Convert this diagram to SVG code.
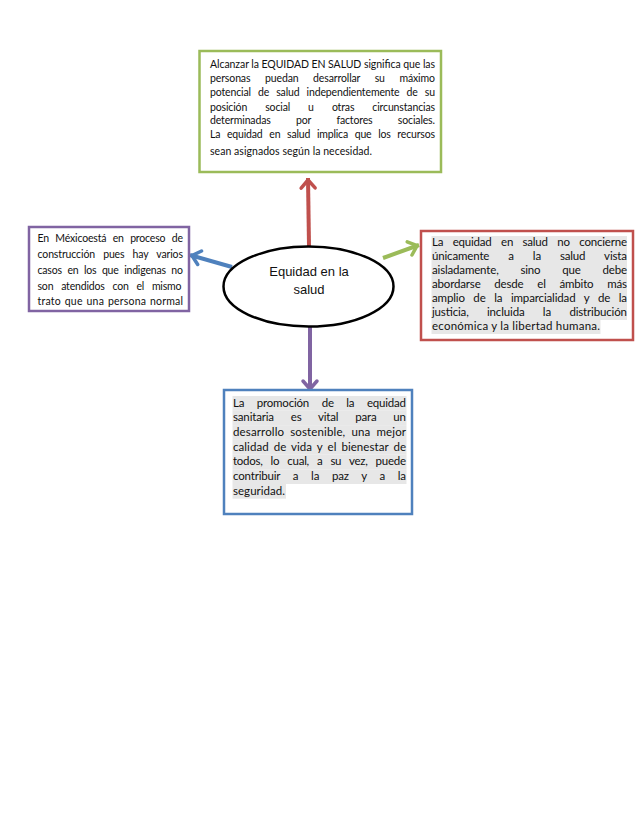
<svg xmlns="http://www.w3.org/2000/svg" width="638" height="826" viewBox="0 0 638 826">
<style>
.box{fill:#fff;stroke-width:2.5}
.t{font-family:Lato,"Liberation Sans",sans-serif;fill:#111}
.s{font-size:10.5px}
.m{font-size:11.5px}
.hl{fill:#e7e7e7}
.c{fill:none;stroke-width:4}
.e{font-family:"Liberation Sans",Arial,sans-serif;font-size:13px;fill:#111;text-anchor:middle}
</style>
<defs>
<marker id="aR" viewBox="-14 -10 18 20" refX="0" refY="0" markerWidth="18" markerHeight="20" markerUnits="userSpaceOnUse" orient="auto"><path d="M-10,-7 L-2,0 L-10,7" fill="none" stroke="#c0504d" stroke-width="3.5" stroke-linejoin="round" stroke-linecap="round"/></marker>
<marker id="aB" viewBox="-14 -10 18 20" refX="0" refY="0" markerWidth="18" markerHeight="20" markerUnits="userSpaceOnUse" orient="auto"><path d="M-10,-7 L-2,0 L-10,7" fill="none" stroke="#4f81bd" stroke-width="3.5" stroke-linejoin="round" stroke-linecap="round"/></marker>
<marker id="aG" viewBox="-14 -10 18 20" refX="0" refY="0" markerWidth="18" markerHeight="20" markerUnits="userSpaceOnUse" orient="auto"><path d="M-10,-7 L-2,0 L-10,7" fill="none" stroke="#9bbb59" stroke-width="3.5" stroke-linejoin="round" stroke-linecap="round"/></marker>
<marker id="aP" viewBox="-14 -10 18 20" refX="0" refY="0" markerWidth="18" markerHeight="20" markerUnits="userSpaceOnUse" orient="auto"><path d="M-10,-7 L-2,0 L-10,7" fill="none" stroke="#8064a2" stroke-width="3.5" stroke-linejoin="round" stroke-linecap="round"/></marker>
</defs>
<rect width="638" height="826" fill="#fff"/>

<g id="connectors">
<line class="c" x1="309" y1="246" x2="308" y2="178" stroke="#c0504d" marker-end="url(#aR)"/>
<line class="c" x1="232" y1="267" x2="190" y2="255" stroke="#4f81bd" marker-end="url(#aB)"/>
<line class="c" x1="383" y1="258" x2="419" y2="245" stroke="#9bbb59" marker-end="url(#aG)"/>
<line class="c" x1="310" y1="327" x2="310" y2="391" stroke="#8064a2" marker-end="url(#aP)"/>
</g>

<g id="center">
<ellipse cx="308.5" cy="286.5" rx="85" ry="40" fill="#fff" stroke="#000" stroke-width="2.5"/>
<text class="e" x="309" y="276">Equidad en la</text>
<text class="e" x="309" y="294">salud</text>
</g>

<g id="top">
<rect class="box" x="199.5" y="51" width="241.5" height="121" stroke="#9bbb59"/>
<g class="t s">
<text x="210" y="67.5" textLength="225" lengthAdjust="spacing">Alcanzar la EQUIDAD EN SALUD significa que las</text>
<text x="210" y="82" word-spacing="12" textLength="225" lengthAdjust="spacing">personas puedan desarrollar su máximo</text>
<text x="210" y="95.5" word-spacing="4.5" textLength="225" lengthAdjust="spacing">potencial de salud independientemente de su</text>
<text x="210" y="110.5" word-spacing="15.5" textLength="225" lengthAdjust="spacing">posición social u otras circunstancias</text>
<text x="210" y="124" word-spacing="22.8" textLength="225" lengthAdjust="spacing">determinadas por factores sociales.</text>
<text x="210" y="138" word-spacing="4.2" textLength="225" lengthAdjust="spacing">La equidad en salud implica que los recursos</text>
<text x="210" y="155" textLength="162" lengthAdjust="spacing">sean asignados según la necesidad.</text>
</g>
</g>

<g id="left">
<rect class="box" x="29" y="227" width="160" height="84" stroke="#8064a2"/>
<g class="t s">
<text x="37.5" y="242" word-spacing="3.8" textLength="145.5" lengthAdjust="spacing">En Méxicoestá en proceso de</text>
<text x="37.5" y="258" word-spacing="5.6" textLength="145.5" lengthAdjust="spacing">construcción pues hay varios</text>
<text x="37.5" y="274" word-spacing="3" textLength="145.5" lengthAdjust="spacing">casos en los que indigenas no</text>
<text x="37.5" y="290" word-spacing="5.3" textLength="144" lengthAdjust="spacing">son atendidos con el mismo</text>
<text x="37.5" y="305" word-spacing="1" textLength="145.5" lengthAdjust="spacing">trato que una persona normal</text>
</g>
</g>

<g id="right">
<rect class="box" x="421" y="231" width="212" height="109" stroke="#c0504d"/>
<rect class="hl" x="431.5" y="236" width="195.5" height="14"/>
<rect class="hl" x="431.5" y="250" width="195.5" height="14"/>
<rect class="hl" x="431.5" y="264" width="195.5" height="14"/>
<rect class="hl" x="431.5" y="278" width="195.5" height="14"/>
<rect class="hl" x="431.5" y="292" width="195.5" height="14"/>
<rect class="hl" x="431.5" y="306" width="195.5" height="14"/>
<rect class="hl" x="431.5" y="320" width="169" height="14"/>
<g class="t m">
<text x="432" y="246" word-spacing="6.7" textLength="195" lengthAdjust="spacing">La equidad en salud no concierne</text>
<text x="432" y="260" word-spacing="16.2" textLength="195" lengthAdjust="spacing">únicamente a la salud vista</text>
<text x="432" y="274" word-spacing="19" textLength="195" lengthAdjust="spacing">aisladamente, sino que debe</text>
<text x="432" y="288" word-spacing="10.9" textLength="195" lengthAdjust="spacing">abordarse desde el ámbito más</text>
<text x="432" y="302" word-spacing="5.8" textLength="195" lengthAdjust="spacing">amplio de la imparcialidad y de la</text>
<text x="432" y="316" word-spacing="15.6" textLength="195" lengthAdjust="spacing">justicia, incluida la distribución</text>
<text x="432" y="330" textLength="168" lengthAdjust="spacing">económica y la libertad humana.</text>
</g>
</g>

<g id="bottom">
<rect class="box" x="224" y="390" width="188" height="124" stroke="#4f81bd"/>
<rect class="hl" x="232.5" y="396" width="174" height="14.7"/>
<rect class="hl" x="232.5" y="410.5" width="174" height="14.7"/>
<rect class="hl" x="232.5" y="425.2" width="174" height="14.7"/>
<rect class="hl" x="232.5" y="439.9" width="174" height="14.7"/>
<rect class="hl" x="232.5" y="454.6" width="174" height="14.7"/>
<rect class="hl" x="232.5" y="469.3" width="174" height="14.7"/>
<rect class="hl" x="232.5" y="484" width="53.5" height="14.7"/>
<g class="t m">
<text x="233" y="406.5" word-spacing="9.8" textLength="173" lengthAdjust="spacing">La promoción de la equidad</text>
<text x="233" y="421" word-spacing="14" textLength="173" lengthAdjust="spacing">sanitaria es vital para un</text>
<text x="233" y="436" word-spacing="3" textLength="173" lengthAdjust="spacing">desarrollo sostenible, una mejor</text>
<text x="233" y="450.5" word-spacing="2" textLength="173" lengthAdjust="spacing">calidad de vida y el bienestar de</text>
<text x="233" y="465" word-spacing="5.3" textLength="173" lengthAdjust="spacing">todos, lo cual, a su vez, puede</text>
<text x="233" y="480" word-spacing="10" textLength="173" lengthAdjust="spacing">contribuir a la paz y a la</text>
<text x="233" y="494.5" textLength="52" lengthAdjust="spacing">seguridad.</text>
</g>
</g>
</svg>
